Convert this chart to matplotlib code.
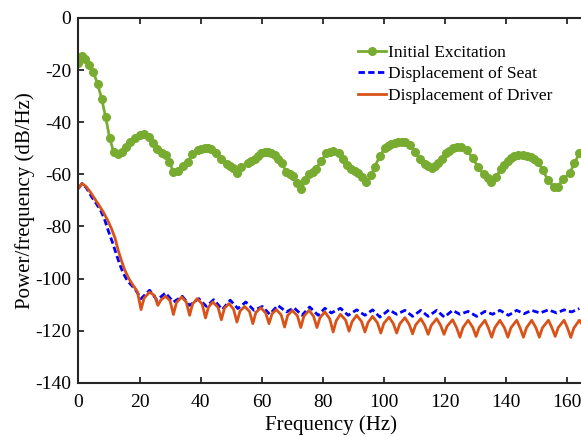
import matplotlib
matplotlib.use('Agg')
import matplotlib.pyplot as plt

plt.rcParams['font.family'] = ['Liberation Serif', 'DejaVu Serif']
plt.rcParams['axes.unicode_minus'] = False

# Initial Excitation (green, markers)
freq_exc = [0, 1.2, 2.3, 3.6, 4.9, 6.3, 7.6, 8.9, 10.2, 11.5, 12.9, 14.3, 15.6, 16.9,
            18.4, 20, 21.6, 23, 24.4, 25.7, 27.3, 28.7, 29.8, 31.1, 32.6, 34.2, 35.8,
            37.3, 39.1, 40.2, 41.3, 42.4, 43.5, 45.1, 46.8, 48.6, 49.6, 50.6, 51.9, 53.3,
            55.5, 56.6, 57.7, 58.8, 59.9, 61.0, 62.1, 63.2, 64.3, 65.4, 66.5, 68.1, 69.2,
            70.3, 71.6, 73, 74.1, 75.6, 76.7, 77.8, 79.4, 81.2, 82.3, 83.4, 85.3, 86.7,
            87.8, 89.4, 90.5, 91.6, 93, 94.3, 95.9, 97, 98.7, 100.3, 101.4, 102.5, 103.6,
            104.7, 105.8, 106.9, 108.5, 110.2, 111.8, 113.4, 114.5, 115.6, 116.7, 117.8,
            119, 120.2, 121.3, 122.5, 123.8, 125.2, 127.2, 129.1, 130.7, 132.7, 134,
            135.1, 136.7, 138.4, 139.5, 140.5, 141.6, 142.7, 144, 145.4, 146.8, 148.2,
            149.3, 150.4, 152, 153.7, 155.8, 157, 158.6, 160.8, 162.4, 164]
psd_exc = [-17.3, -14.8, -15.8, -18, -20.9, -25.4, -31, -38, -46, -51.4, -52.3, -51.3,
           -49.4, -47.5, -45.9, -44.9, -44.6, -45.5, -47.8, -50.3, -51.7, -52.6, -55.4,
           -59.2, -58.6, -56.8, -55.2, -52.3, -50.7, -50.2, -50, -49.9, -50.3, -51.7,
           -54.2, -56, -56.9, -57.7, -59.4, -57.1, -55.8, -55.0, -54.1, -53.0, -51.9,
           -51.4, -51.3, -51.8, -52.6, -54.1, -55.8, -59, -59.9, -60.5, -63.2, -65.8,
           -62.2, -60, -59, -57.8, -55, -52, -51.4, -51, -51.9, -54.2, -56.4, -58.1,
           -58.8, -59.4, -60.9, -62.8, -60.3, -57.1, -53, -50, -49, -48.3, -47.9, -47.7,
           -47.6, -47.7, -48.7, -51.3, -54.2, -56.2, -57, -57.5, -56.9, -55.8, -54, -52,
           -51, -50, -49.6, -49.4, -50.7, -53.8, -57.1, -60, -61.5, -62.8, -60.9, -58.1,
           -56.4, -54.8, -53.7, -53, -52.7, -52.6, -52.9, -53.5, -54.3, -55.2, -58.3,
           -62.2, -65, -64.7, -61.9, -59.6, -55.8, -51.9]

# Displacement of Seat (blue dashed)
freq_seat = [0, 1.2, 2.6, 4.3, 6.0, 7.5, 8.7, 9.7, 11.1, 12.5, 13.6, 14.7, 16.0, 17.4,
             18.8, 20.5, 23.3, 25.7, 28.5, 31.1, 34.0, 36.4, 39.4, 41.9, 44.3, 47.1,
             49.7, 52.2, 54.8, 57.5, 60.2, 62.6, 65.3, 68.1, 70.6, 73.2, 75.7, 78.5,
             80.7, 82.8, 85.8, 88.3, 91.1, 93.8, 96.3, 98.7, 101.7, 104.2, 106.9, 109.4,
             112.1, 114.5, 117.3, 119.8, 122.5, 124.9, 127.6, 130.4, 133.1, 135.6, 138.0,
             140.8, 143.5, 145.9, 148.4, 151.1, 153.9, 156.6, 159.0, 161.5, 164.0]
psd_seat = [-65.4, -63.5, -65.2, -68.6, -71.5, -74.4, -77.8, -81.4, -86.0, -91.0, -94.8,
            -98.0, -100.8, -102.6, -104.5, -107.7, -104.5, -108.3, -105.5, -109.0, -106.8,
            -110.3, -107.7, -110.7, -108.1, -111.9, -108.3, -111.5, -109.0, -112.2,
            -110.7, -113.7, -110.3, -112.8, -111.2, -114.1, -110.9, -114.1, -111.4,
            -113.2, -111.4, -114.1, -112.0, -114.1, -112.0, -114.8, -112.0, -113.7,
            -112.2, -114.5, -112.2, -114.5, -112.2, -114.8, -112.2, -113.7, -112.6,
            -114.5, -112.6, -113.7, -112.2, -114.1, -112.2, -113.5, -112.2, -113.2,
            -112.0, -113.2, -112.0, -112.8, -111.5]

# Displacement of Driver (orange solid)
freq_drv = [0, 1.2, 2.6, 4.0, 5.3, 6.7, 8.1, 9.5, 10.8, 12.0, 13.0, 14.1, 15.2, 16.5,
            17.9, 19.3, 20.5, 21.5, 23.3, 24.9, 26.0, 27.0, 28.5, 30.0, 31.1, 32.1, 33.8,
            35.3, 36.4, 37.4, 38.9, 40.5, 41.6, 42.6, 44.0, 45.7, 46.8, 47.8, 49.3, 50.8,
            51.9, 52.9, 54.4, 56.0, 57.1, 58.1, 59.7, 61.3, 62.4, 63.4, 64.8, 66.4, 67.5,
            68.5, 70.0, 71.7, 72.8, 73.8, 75.5, 77.0, 78.1, 79.1, 80.7, 82.3, 83.4, 84.4,
            85.8, 87.5, 88.6, 89.6, 91.1, 92.7, 93.8, 94.8, 96.3, 97.9, 99.0, 100.0,
            101.7, 103.1, 104.2, 105.2, 106.9, 108.3, 109.4, 110.4, 112.1, 113.4, 114.5,
            115.5, 117.3, 118.6, 119.7, 120.7, 122.5, 123.8, 124.9, 125.9, 127.6, 129.1,
            130.2, 131.2, 133.1, 134.2, 135.3, 136.3, 138.0, 139.5, 140.6, 141.6, 143.5,
            144.6, 145.7, 146.7, 148.4, 149.8, 150.9, 151.9, 153.9, 155.0, 156.1, 157.1,
            159.0, 160.1, 161.2, 162.2, 164.0, 165.5]
psd_drv = [-65.4, -63.5, -64.8, -67.0, -69.3, -71.8, -74.4, -77.5, -80.8, -84.5, -89.1,
           -93.2, -96.8, -100.0, -102.6, -105.0, -111.9, -107.5, -105.2, -106.5, -110.3,
           -108.2, -106.8, -108.5, -113.8, -109.2, -107.1, -109.0, -114.1, -109.7,
           -107.7, -109.8, -115.1, -110.9, -109.0, -111.0, -115.8, -111.4, -109.6,
           -111.8, -116.7, -112.5, -110.7, -112.6, -117.3, -113.0, -111.2, -113.2,
           -117.3, -113.5, -111.9, -114.0, -118.6, -114.2, -112.2, -114.3, -118.8,
           -114.5, -112.2, -114.5, -118.8, -115.0, -112.8, -115.5, -120.5, -116.2,
           -113.7, -116.0, -120.2, -116.5, -114.1, -116.5, -120.5, -116.9, -114.5,
           -117.0, -120.9, -117.2, -114.8, -117.3, -120.9, -117.4, -115.0, -117.6,
           -121.2, -117.8, -115.4, -118.0, -121.4, -118.0, -115.4, -118.0, -121.4,
           -118.3, -115.8, -118.8, -122.5, -118.8, -116.0, -118.7, -122.2, -118.8,
           -116.0, -118.9, -122.5, -118.9, -116.0, -118.9, -122.5, -118.9, -116.0,
           -118.9, -122.5, -118.9, -116.0, -118.9, -122.5, -118.9, -116.0, -118.8,
           -122.2, -118.8, -116.0, -118.9, -122.6, -119.0, -116.0, -118.5]

fig = plt.figure(figsize=(5.81, 4.37), dpi=100)
ax = fig.add_axes([0.135, 0.124, 0.870, 0.835])

ax.plot(freq_exc, psd_exc, '-o', color='#77AC30', lw=2.0, ms=5.5,
        mfc='#77AC30', mec='#77AC30', label='Initial Excitation')
ax.plot(freq_seat, psd_seat, color='#0000FF', lw=2.0, dashes=(2.3, 1.2),
        label='Displacement of Seat')
ax.plot(freq_drv, psd_drv, '-', color='#D95319', lw=2.0,
        label='Displacement of Driver')

ax.set_xlim(0, 165.5)
ax.set_ylim(-140, 0)
ax.set_xticks(range(0, 161, 20))
ax.set_yticks(range(-140, 1, 20))
ax.tick_params(direction='in', length=4, width=1.3, labelsize=14,
               top=True, right=False, colors='#262626', labelcolor='black')
ax.tick_params(axis='x', pad=8)
ax.tick_params(axis='y', pad=5)
for s in ax.spines.values():
    s.set_linewidth(1.5)
    s.set_color('#262626')
ax.spines['right'].set_visible(False)

ax.set_xlabel('Frequency (Hz)', fontsize=15, labelpad=3)
ax.set_ylabel('Power/frequency (dB/Hz)', fontsize=15, labelpad=0)

ax.legend(loc='upper left', bbox_to_anchor=(0.54, 0.945), frameon=False,
          fontsize=12.5, handlelength=1.6, handletextpad=0.1, labelspacing=0.3,
          borderaxespad=0)

fig.savefig('out.png', dpi=100)
